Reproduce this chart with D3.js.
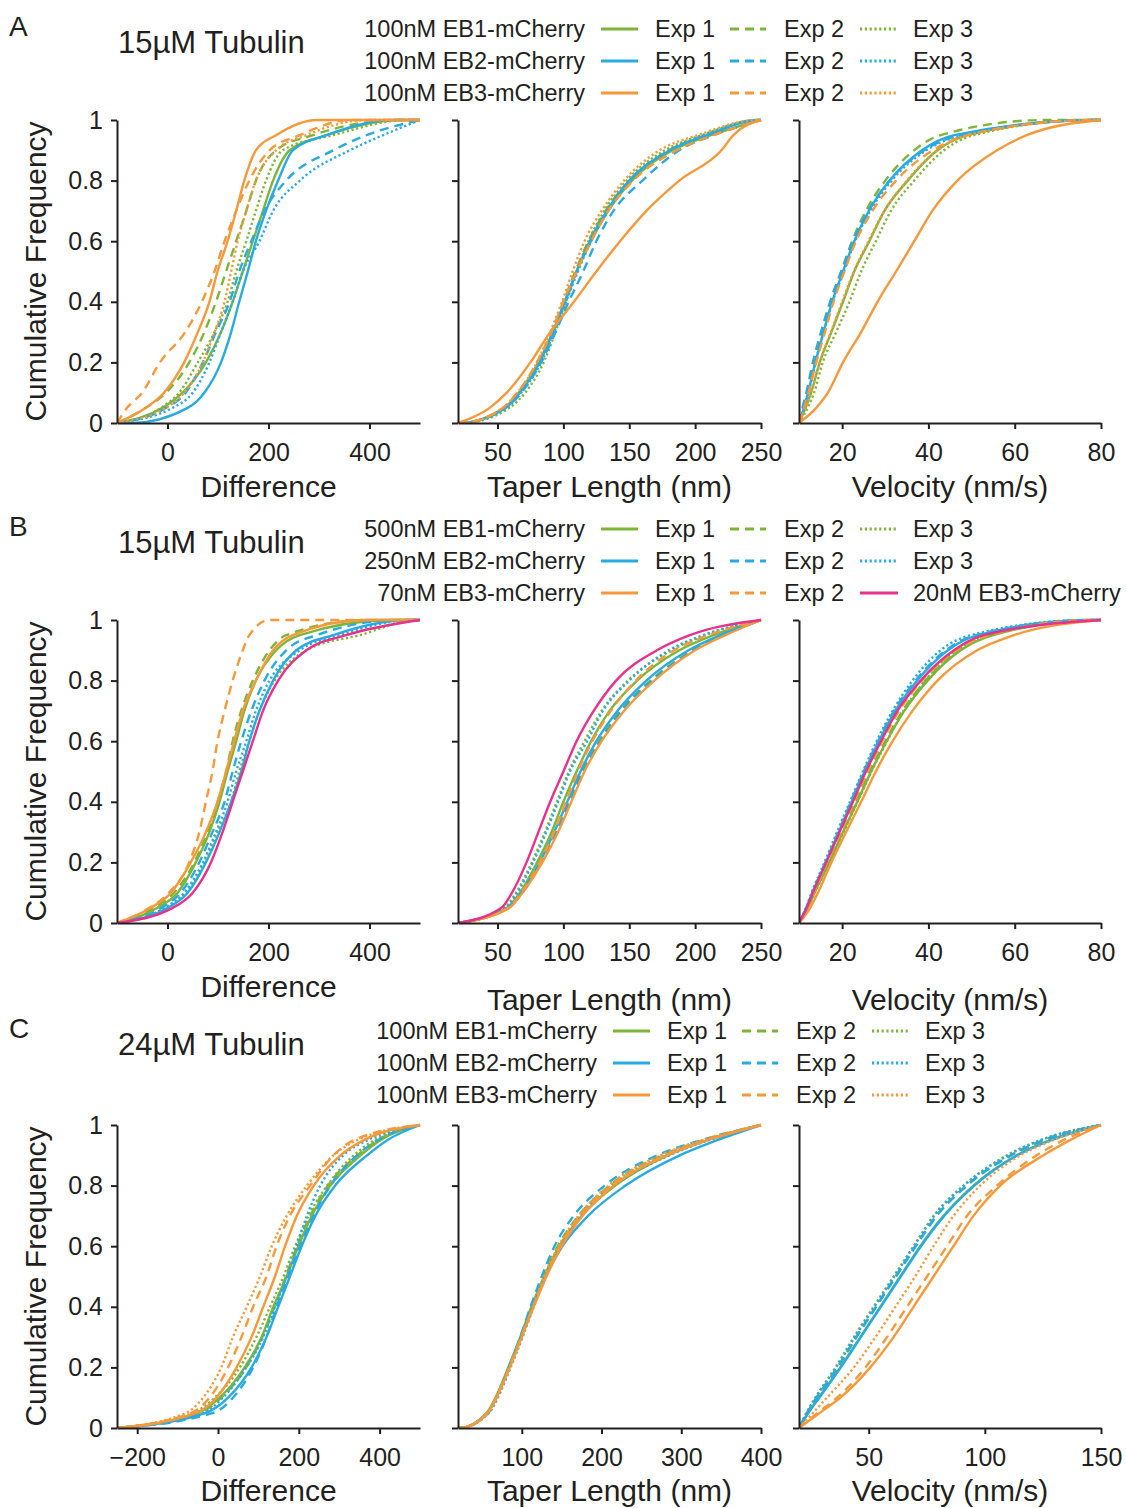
<!DOCTYPE html>
<html lang="en"><head><meta charset="utf-8">
<title>EB taper cumulative frequency</title>
<script src="https://cdnjs.cloudflare.com/ajax/libs/d3/7.8.5/d3.min.js"></script>
<style>
  body { margin:0; background:#fff; }
  svg text { font-family: "Liberation Sans", Arial, Helvetica, sans-serif; fill:#231f20; }
  .axis path, .axis line { stroke:#231f20; stroke-width:2; }
  .curve { fill:none; stroke-width:2.4; }
</style>
</head>
<body>
<svg id="chart" width="1126" height="1508"></svg>
<script>
// cumulative frequency levels; each series below gives the x value reached at that level
var cumLevels = [0, 0.05, 0.1, 0.2, 0.3, 0.4, 0.5, 0.6, 0.7, 0.8, 0.9, 0.95, 1];

var seriesStd = ["EB1-1","EB1-2","EB1-3","EB2-1","EB2-2","EB2-3","EB3-1","EB3-2","EB3-3"];
var seriesB   = ["EB1-1","EB1-2","EB1-3","EB2-1","EB2-2","EB2-3","EB3-1","EB3-2","EB3low-1"];

// ---- row A : 15uM tubulin, 100nM EBs
var aDiff = [
  [-100, -10, 30, 76, 106, 129, 149, 169, 189, 209, 242, 315, 460],
  [-100, -43, -3, 43, 73, 96, 116, 136, 156, 175, 215, 288, 460],
  [-100, -13, 23, 60, 93, 119, 136, 156, 175, 195, 228, 328, 473],
  [-70, 40, 73, 106, 126, 142, 159, 175, 195, 219, 248, 315, 447],
  [-100, -3, 36, 70, 96, 123, 142, 166, 192, 235, 328, 394, 500],
  [-100, 10, 50, 83, 106, 129, 149, 182, 209, 262, 361, 427, 500],
  [-100, -43, -7, 33, 60, 83, 99, 119, 136, 152, 175, 215, 295],
  [-100, -80, -50, -15, 35, 68, 93, 113, 136, 162, 202, 262, 361],
  [-100, -3, 33, 70, 93, 113, 126, 139, 156, 175, 215, 275, 394]
];
var aTaper = [
  [22, 55, 66, 81, 92, 101, 110, 121, 134, 152, 183, 212, 250],
  [22, 55, 66, 80, 91, 100, 109, 119, 132, 150, 180, 208, 248],
  [24, 59, 71, 85, 94, 102, 110, 119, 131, 148, 177, 205, 248],
  [22, 56, 67, 82, 92, 101, 110, 120, 133, 150, 181, 209, 249],
  [22, 56, 68, 83, 94, 104, 115, 125, 138, 160, 188, 214, 250],
  [22, 57, 68, 83, 93, 102, 111, 121, 134, 151, 180, 207, 249],
  [20, 44, 57, 75, 90, 108, 125, 143, 163, 188, 220, 229, 250],
  [22, 54, 65, 80, 91, 100, 110, 121, 134, 153, 186, 214, 250],
  [22, 54, 65, 80, 90, 99, 107, 116, 129, 146, 173, 202, 247]
];
var aVel = [
  [10, 11.5, 12.8, 14.8, 17.5, 20.2, 22.8, 26.3, 29.8, 35.2, 42.1, 49, 78],
  [10, 11, 12, 13.6, 15.5, 17.3, 19.8, 22.3, 25.5, 30, 36.7, 42.8, 67],
  [10, 12, 13.5, 15.5, 18.6, 21.7, 24.4, 27.8, 31.3, 36.7, 43.6, 50.5, 78],
  [10, 11.2, 12.1, 13.8, 15.7, 17.7, 20.2, 22.8, 26.2, 31, 38.5, 46, 79],
  [10, 10.8, 11.7, 13.2, 15.1, 17.2, 19.8, 22.5, 26, 31, 39, 47.5, 79],
  [10, 11.1, 12.2, 13.8, 15.7, 17.8, 20.4, 23, 26.5, 31.5, 39.5, 48, 79],
  [10, 14, 16.7, 20.2, 24.4, 28.2, 32.5, 36.7, 40.9, 46.7, 55.9, 62.8, 80],
  [10, 11.2, 12.2, 14, 16, 18, 20.5, 23.2, 27, 32.5, 41, 49, 78],
  [10, 11.5, 12.8, 14.8, 17.4, 20, 22.7, 26.1, 29.8, 35, 42, 49.5, 78]
];

// ---- row B : 15uM tubulin, mixed EB concentrations
var bDiff = [
  [-100, -20, 20, 56, 83, 103, 119, 136, 152, 175, 215, 262, 447],
  [-100, -27, 13, 53, 79, 99, 116, 129, 146, 169, 202, 235, 394],
  [-100, -5, 36, 73, 99, 126, 142, 162, 182, 212, 275, 381, 493],
  [-100, 0, 40, 76, 103, 126, 146, 162, 182, 209, 255, 328, 480],
  [-100, -12, 26, 63, 89, 113, 129, 146, 166, 192, 235, 295, 460],
  [-100, -5, 33, 70, 96, 119, 136, 156, 175, 202, 262, 341, 487],
  [-100, -33, 7, 46, 76, 99, 116, 132, 149, 175, 209, 248, 394],
  [-100, -36, 3, 43, 63, 76, 89, 99, 113, 129, 149, 162, 202],
  [-100, 10, 50, 86, 109, 129, 149, 169, 189, 219, 275, 354, 500]
];
var bTaper = [
  [20, 57, 67, 80, 91, 100, 110, 121, 135, 156, 188, 214, 250],
  [20, 58, 68, 82, 94, 104, 114, 127, 143, 166, 198, 221, 250],
  [20, 55, 64, 76, 86, 95, 104, 116, 129, 149, 182, 208, 250],
  [20, 58, 68, 82, 93, 103, 113, 125, 141, 163, 195, 219, 250],
  [20, 58, 69, 83, 95, 105, 115, 128, 144, 167, 199, 222, 250],
  [20, 56, 65, 77, 87, 96, 105, 118, 130, 150, 180, 206, 250],
  [20, 59, 69, 84, 96, 106, 116, 129, 146, 169, 200, 223, 250],
  [20, 58, 68, 82, 93, 102, 111, 122, 136, 155, 184, 210, 250],
  [20, 53, 61, 72, 81, 90, 100, 110, 123, 140, 171, 196, 250]
];
var bVel = [
  [10, 12, 13.6, 17, 20.2, 23.5, 26.7, 30.3, 34.4, 39.8, 47.5, 55, 79],
  [10, 12, 13.5, 16.8, 20, 23.2, 26.4, 30, 34, 39.4, 47, 54.5, 79],
  [10, 12.1, 13.7, 17.1, 20.3, 23.6, 26.8, 30.4, 34.2, 39.2, 46.5, 54, 79],
  [10, 11.7, 13.1, 16.2, 19.2, 22.2, 25.2, 28.5, 32.3, 37.4, 44.5, 51.5, 78],
  [10, 11.7, 13.1, 16.1, 19.1, 22, 25, 28.3, 32, 37, 44, 51, 78],
  [10, 11.6, 12.9, 15.9, 18.8, 21.8, 24.8, 28, 31.7, 36.3, 42.8, 49.8, 77],
  [10, 12.6, 14.4, 17.5, 20.9, 24.4, 27.8, 31.7, 36.3, 42.1, 51.3, 59.8, 80],
  [10, 11.9, 13.4, 16.5, 19.7, 22.8, 25.9, 29.3, 33.2, 38.5, 46.5, 54, 79],
  [10, 11.8, 13.2, 16.3, 19.4, 22.5, 25.5, 29, 32.8, 38.2, 45.9, 52.8, 80]
];

// ---- row C : 24uM tubulin, 100nM EBs
var cDiff = [
  [-250, -50, 4, 66, 108, 137, 170, 199, 232, 278, 353, 402, 500],
  [-250, -45, 8, 70, 110, 140, 168, 196, 228, 272, 345, 395, 500],
  [-250, -62, -8, 54, 95, 129, 162, 191, 224, 270, 336, 386, 500],
  [-250, -30, 25, 83, 120, 149, 178, 207, 241, 290, 369, 419, 500],
  [-250, -12, 37, 87, 120, 145, 174, 203, 236, 278, 344, 395, 500],
  [-250, -35, 12, 70, 112, 141, 170, 195, 220, 253, 310, 370, 500],
  [-250, -54, -4, 46, 83, 112, 141, 166, 195, 237, 303, 361, 500],
  [-250, -66, -21, 25, 58, 87, 120, 145, 178, 228, 286, 336, 500],
  [-250, -79, -37, 8, 37, 71, 104, 133, 170, 220, 286, 344, 500]
];
var cTaper = [
  [22, 56, 67, 83, 98, 112, 128, 147, 175, 217, 283, 333, 400],
  [22, 57, 68, 84, 99, 113, 127, 145, 171, 210, 276, 328, 400],
  [22, 58, 69, 85, 100, 114, 129, 147, 173, 212, 278, 330, 400],
  [22, 57, 68, 84, 99, 114, 130, 151, 183, 230, 298, 345, 400],
  [22, 58, 68, 84, 98, 111, 125, 141, 165, 204, 270, 325, 400],
  [22, 59, 70, 86, 101, 115, 130, 148, 175, 216, 285, 335, 400],
  [22, 57, 68, 85, 100, 115, 131, 150, 176, 215, 282, 333, 400],
  [22, 57, 68, 84, 99, 114, 130, 148, 173, 212, 280, 330, 400],
  [22, 58, 69, 85, 100, 114, 128, 146, 171, 209, 274, 326, 400]
];
var cVel = [
  [20, 24, 28.5, 37.8, 46.4, 55, 63.6, 72.2, 82.2, 95.1, 113.8, 128.1, 150],
  [20, 23.5, 27.5, 36.5, 44.5, 53, 61.5, 70, 79, 92, 111, 125, 150],
  [20, 23.2, 27, 35.7, 43.6, 52.1, 60.7, 69.3, 77.9, 90.8, 109.5, 123.8, 150],
  [20, 24, 28.7, 38, 46.6, 55.2, 63.8, 72.5, 82.5, 95.5, 114, 128.5, 150],
  [20, 23.6, 27.7, 36.7, 44.8, 53.2, 61.8, 70.3, 79.3, 92.3, 111.5, 125.5, 150],
  [20, 23.3, 27.2, 36, 44, 52.5, 61, 69.5, 78.2, 91, 110, 124, 150],
  [20, 29, 37.8, 50.7, 60.7, 69.3, 77.9, 86.5, 95.1, 106.6, 125.2, 136.7, 150],
  [20, 28, 36.4, 48.6, 57.9, 66.5, 75.1, 83.7, 92.3, 105.2, 122.3, 133.8, 150],
  [20, 26, 32, 43.6, 52.9, 61.5, 70, 77.9, 86.5, 98, 115.2, 129.5, 150]
];

var legendA = ["100nM EB1-mCherry", "100nM EB2-mCherry", "100nM EB3-mCherry"];
var legendB = ["500nM EB1-mCherry", "250nM EB2-mCherry", "70nM EB3-mCherry"];
var legendC = legendA;

var xLabels = ["Difference", "Taper Length (nm)", "Velocity (nm/s)"];
var yTicks = [0, 0.2, 0.4, 0.6, 0.8, 1];

var colors = { "EB1": "#7db53b", "EB2": "#29aae1", "EB3": "#f7983a", "EB3low": "#e8318a" };
var dashes = { "1": null, "2": "9,6", "3": "2.2,2.6" };

var svg = d3.select("#chart");
var panelX = [[117, 420], [458, 761], [799, 1101]];

var rows = [
  { top: 120, head: 0, letter: "A", title: "15µM Tubulin", legend: legendA, series: seriesStd,
    data: [aDiff, aTaper, aVel], legendEnd: 585, labelY: [497, 497, 497],
    domains: [[-100, 500], [20, 250], [10, 80]],
    ticks: [[0, 200, 400], [50, 100, 150, 200, 250], [20, 40, 60, 80]] },
  { top: 620, head: 0, letter: "B", title: "15µM Tubulin", legend: legendB, series: seriesB,
    data: [bDiff, bTaper, bVel], legendEnd: 585, labelY: [997, 1010, 1010],
    domains: [[-100, 500], [20, 250], [10, 80]],
    ticks: [[0, 200, 400], [50, 100, 150, 200, 250], [20, 40, 60, 80]] },
  { top: 1125, head: -3, letter: "C", title: "24µM Tubulin", legend: legendC, series: seriesStd,
    data: [cDiff, cTaper, cVel], legendEnd: 597, labelY: [1501, 1501, 1501],
    domains: [[-250, 500], [20, 400], [20, 150]],
    ticks: [[-200, 0, 200, 400], [100, 200, 300, 400], [50, 100, 150]] }
];

function styleLine(sel, key) {
  var parts = key.split("-");
  sel.attr("stroke", colors[parts[0]])
     .attr("stroke-dasharray", dashes[parts[1]]);
}

rows.forEach(function(row, ri) {
  var plotH = 303;
  var bottom = row.top + plotH;
  var y = d3.scaleLinear().domain([0, 1]).range([bottom, row.top]);
  var head = row.top + row.head;

  // panel letter and title
  svg.append("text").attr("x", 9).attr("y", head - 84)
    .attr("font-size", 28).text(row.letter);
  svg.append("text").attr("x", 118).attr("y", head - 67)
    .attr("font-size", 31).text(row.title);

  // legend
  var legY = [head - 83, head - 51, head - 19];
  row.legend.forEach(function(lab, li) {
    var ly = legY[li];
    var e = row.legendEnd;
    svg.append("text").attr("x", e).attr("y", ly).attr("text-anchor", "end")
      .attr("font-size", 23.5).text(lab);
    var keys = [row.series[li * 3], row.series[li * 3 + 1], row.series[li * 3 + 2]];
    var offs = [[16, 53, 70], [145, 181, 199], [275, 313, 328]];
    keys.forEach(function(k, ki) {
      svg.append("line")
        .attr("x1", e + offs[ki][0]).attr("x2", e + offs[ki][1])
        .attr("y1", ly - 8).attr("y2", ly - 8)
        .attr("stroke-width", 3)
        .call(styleLine, k);
      var txt = k === "EB3low-1" ? "20nM EB3-mCherry" : "Exp " + k.split("-")[1];
      svg.append("text").attr("x", e + offs[ki][2]).attr("y", ly)
        .attr("font-size", 23.5).text(txt);
    });
  });

  // y label
  svg.append("text")
    .attr("transform", "translate(46," + (row.top + plotH / 2) + ") rotate(-90)")
    .attr("text-anchor", "middle").attr("font-size", 30)
    .text("Cumulative Frequency");

  row.data.forEach(function(panel, pi) {
    var dom = row.domains[pi];
    var x = d3.scaleLinear().domain(dom).range(panelX[pi]);
    var g = svg.append("g");

    var clipId = "clip" + ri + pi;
    g.append("clipPath").attr("id", clipId).append("rect")
      .attr("x", panelX[pi][0]).attr("y", row.top - 3)
      .attr("width", panelX[pi][1] - panelX[pi][0] + 3).attr("height", plotH + 3);

    var line = d3.line()
      .x(function(d) { return x(d[0]); })
      .y(function(d) { return y(d[1]); })
      .curve(d3.curveMonotoneX);

    var curves = g.append("g").attr("clip-path", "url(#" + clipId + ")");
    panel.forEach(function(vals, si) {
      var pts = vals.map(function(v, i) { return [v, cumLevels[i]]; });
      // a cumulative curve sits at 0 before its first value and at 1 after its last
      if (pts[0][0] > dom[0]) pts.unshift([dom[0], 0]);
      if (pts[pts.length - 1][0] < dom[1]) pts.push([dom[1], 1]);
      curves.append("path").attr("class", "curve")
        .attr("d", line(pts))
        .call(styleLine, row.series[si]);
    });

    var yAxis = d3.axisLeft(y).tickValues(yTicks).tickSize(6).tickSizeOuter(0).tickPadding(8)
      .tickFormat(pi === 0 ? function(d) { return d === 0 || d === 1 ? String(d) : d3.format(".1f")(d); } : "");
    g.append("g").attr("class", "axis")
      .attr("transform", "translate(" + panelX[pi][0] + ",0)")
      .call(yAxis)
      .selectAll("text").attr("font-size", 25).attr("font-family", null);

    var xAxis = d3.axisBottom(x).tickValues(row.ticks[pi]).tickSize(6).tickSizeOuter(0).tickPadding(14);
    g.append("g").attr("class", "axis")
      .attr("transform", "translate(0," + bottom + ")")
      .call(xAxis)
      .selectAll("text").attr("font-size", 25).attr("font-family", null);

    svg.append("text")
      .attr("x", (panelX[pi][0] + panelX[pi][1]) / 2)
      .attr("y", row.labelY[pi])
      .attr("text-anchor", "middle").attr("font-size", 30)
      .text(xLabels[pi]);
  });
});
</script>
</body></html>
